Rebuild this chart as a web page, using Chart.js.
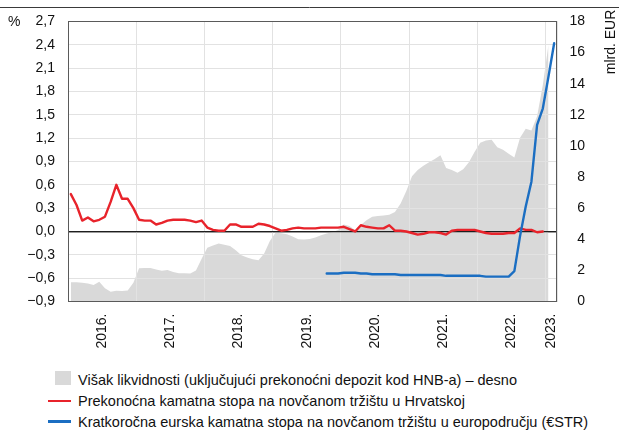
<!DOCTYPE html>
<html>
<head>
<meta charset="utf-8">
<script src="https://cdn.jsdelivr.net/npm/chart.js@4.4.1/dist/chart.umd.min.js"></script>
<style>
  html, body { margin: 0; padding: 0; background: #ffffff; }
  #wrap { position: relative; width: 619px; height: 436px; overflow: hidden;
          font-family: "Liberation Sans", Arial, sans-serif; color: #111; }
  #c { position: absolute; left: 0; top: 0; }
  .row { position: absolute; left: 78px; height: 20px; line-height: 20px; font-size: 14.5px; white-space: nowrap; }
  .sw { position: absolute; }
</style>
</head>
<body>
<div id="wrap">
  <canvas id="c" width="619" height="360"></canvas>
  <div id="legend"></div>
</div>
<script>
// ---------- DATA (monthly, Jan 2016 – Feb 2023) ----------
const startYear = 2016;
const monthCount = 86;

const seriesNames = [
  'Višak likvidnosti (uključujući prekonoćni depozit kod HNB-a) – desno',
  'Prekonoćna kamatna stopa na novčanom tržištu u Hrvatskoj',
  'Kratkoročna eurska kamatna stopa na novčanom tržištu u europodručju (€STR)'
];

// Excess liquidity, bn EUR (right axis)
const excessLiquidity = [
  1.23, 1.23, 1.21, 1.15, 1.06, 1.27, 0.85, 0.63, 0.69, 0.68, 0.70, 1.20,
  2.13, 2.15, 2.15, 2.05, 1.97, 2.02, 1.90, 1.81, 1.81, 1.80, 2.00, 2.75,
  3.45, 3.60, 3.72, 3.64, 3.56, 3.30, 2.97, 2.83, 2.72, 2.65, 3.09, 3.88,
  4.42, 4.38, 4.32, 4.18, 4.00, 3.98, 4.02, 4.12, 4.25, 4.37, 4.45, 4.60,
  4.95, 4.85, 4.58, 4.92, 5.22, 5.44, 5.50, 5.52, 5.58, 5.75, 6.30, 7.10,
  8.05, 8.45, 8.72, 8.95, 9.15, 9.40, 8.58, 8.45, 8.28, 8.50, 8.95, 9.60,
  10.20, 10.35, 10.40, 9.92, 9.75, 9.50, 9.25, 10.53, 11.10, 10.99, 11.90, 13.90,
  16.50, null
];

// Overnight money market rate in Croatia, % (left axis)
const overnightHR = [
  0.48, 0.34, 0.14, 0.18, 0.13, 0.15, 0.19, 0.38, 0.60, 0.42, 0.42, 0.30,
  0.15, 0.14, 0.14, 0.09, 0.11, 0.14, 0.15, 0.15, 0.15, 0.14, 0.12, 0.14,
  0.05, 0.02, 0.01, 0.01, 0.09, 0.09, 0.06, 0.06, 0.06, 0.10, 0.09, 0.07,
  0.04, 0.01, 0.02, 0.04, 0.05, 0.04, 0.04, 0.04, 0.05, 0.05, 0.05, 0.05,
  0.06, 0.03, 0.00, 0.08, 0.06, 0.05, 0.04, 0.04, 0.08, 0.01, 0.01, 0.00,
  -0.02, -0.04, -0.03, -0.01, -0.01, -0.02, -0.04, 0.01, 0.02, 0.02, 0.02, 0.02,
  0.00, -0.02, -0.03, -0.03, -0.03, -0.02, -0.02, 0.04, 0.02, 0.02, -0.01, 0.00,
  null, null
];

// €STR, % (left axis) – starts Oct 2019
const estr = [
  null, null, null, null, null, null, null, null, null, null, null, null,
  null, null, null, null, null, null, null, null, null, null, null, null,
  null, null, null, null, null, null, null, null, null, null, null, null,
  null, null, null, null, null, null, null, null, null, -0.54, -0.54, -0.54,
  -0.53, -0.53, -0.53, -0.54, -0.54, -0.55, -0.55, -0.55, -0.55, -0.55, -0.56, -0.56,
  -0.56, -0.56, -0.56, -0.56, -0.56, -0.56, -0.57, -0.57, -0.57, -0.57, -0.57, -0.57,
  -0.57, -0.58, -0.58, -0.58, -0.58, -0.58, -0.51, -0.06, 0.32, 0.64, 1.37, 1.58,
  1.99, 2.42
];

const yearLabels = ['2016.', '2017.', '2018.', '2019.', '2020.', '2021.', '2022.', '2023.'];
const leftTicks  = [-0.9, -0.6, -0.3, 0.0, 0.3, 0.6, 0.9, 1.2, 1.5, 1.8, 2.1, 2.4, 2.7];
const rightTicks = [0, 2, 4, 6, 8, 10, 12, 14, 16, 18];
const leftUnit = '%';
const rightUnit = 'mlrd. EUR';

// ---------- STYLE ----------
const FONT = '"Liberation Sans", Arial, sans-serif';
const C_GRAY = '#d9d9d9';
const C_GRID = '#e2e2e2';
const C_RED = '#e8232b';
const C_BLUE = '#1b6ec2';
const C_TEXT = '#111111';

// month position: month i drawn at centre of its month slot
const toPoints = arr => arr.map((v, i) => ({ x: i + 0.5, y: v }));

// x ticks: year boundaries (grid only) and year centres (labels)
const boundaryTicks = yearLabels.map((_, k) => k * 12).concat([monthCount]);
const labelTicks = yearLabels.map((_, k) => Math.min(k * 12 + 6, (k * 12 + monthCount) / 2));
const labelMap = new Map(labelTicks.map((v, k) => [v, yearLabels[k]]));
const xTickValues = [...new Set(boundaryTicks.concat(labelTicks))].sort((a, b) => a - b);

const fmtLeft = v => {
  if (Math.abs(v) < 1e-9) return '0,0';
  return (v < 0 ? '\u2212' : '') + Math.abs(v).toFixed(1).replace('.', ',');
};

Chart.defaults.font.family = FONT;
Chart.defaults.color = C_TEXT;

const decor = {
  id: 'decor',
  afterDatasetDraw(chart, args) {
    // redraw grid on top of the grey area, below the lines
    if (args.index === 0) {
      const ca = chart.chartArea;
      chart.scales.x.drawGrid(ca);
      chart.scales.y.drawGrid(ca);
    }
  },
  afterDraw(chart) {
    const ctx = chart.ctx, ca = chart.chartArea;
    ctx.save();
    // frame
    ctx.strokeStyle = '#5a5a5a';
    ctx.lineWidth = 1;
    ctx.strokeRect(Math.round(ca.left) + 0.5, Math.round(ca.top) + 0.5,
                   Math.round(ca.right - ca.left) - 1, Math.round(ca.bottom - ca.top));
    // top rule
    ctx.strokeStyle = '#3a3a3a';
    ctx.beginPath(); ctx.moveTo(0, 7.5); ctx.lineTo(chart.width, 7.5); ctx.stroke();
    // units
    ctx.fillStyle = C_TEXT;
    ctx.font = '14px ' + FONT;
    ctx.textBaseline = 'middle';
    ctx.textAlign = 'left';
    ctx.fillText(leftUnit, 8, chart.scales.y.getPixelForValue(leftTicks[leftTicks.length - 1]) + 1);
    ctx.translate(611, 42);
    ctx.rotate(-Math.PI / 2);
    ctx.textAlign = 'center';
    ctx.fillText(rightUnit, 0, 0);
    ctx.restore();
  }
};

new Chart(document.getElementById('c'), {
  type: 'line',
  data: {
    datasets: [
      {
        label: seriesNames[0], data: toPoints(excessLiquidity), yAxisID: 'y2', order: 3,
        fill: 'origin', backgroundColor: C_GRAY, borderWidth: 0, borderColor: C_GRAY,
        pointRadius: 0, tension: 0
      },
      {
        label: seriesNames[1], data: toPoints(overnightHR), yAxisID: 'y', order: 2,
        borderColor: C_RED, borderWidth: 2.4, pointRadius: 0, fill: false, tension: 0,
        borderJoinStyle: 'round', borderCapStyle: 'round'
      },
      {
        label: seriesNames[2], data: toPoints(estr), yAxisID: 'y', order: 1,
        borderColor: C_BLUE, borderWidth: 2.4, pointRadius: 0, fill: false, tension: 0,
        borderJoinStyle: 'round', borderCapStyle: 'round'
      }
    ]
  },
  options: {
    responsive: false,
    animation: false,
    devicePixelRatio: 1,
    layout: { padding: { top: 21, left: 0, right: 34, bottom: 0 } },
    plugins: { legend: { display: false }, tooltip: { enabled: false } },
    scales: {
      x: {
        type: 'linear', position: 'bottom', min: 0, max: monthCount,
        afterBuildTicks: s => { s.ticks = xTickValues.map(v => ({ value: v })); },
        afterFit: s => { s.height = 58.5; },
        border: { display: false },
        grid: {
          drawTicks: false, lineWidth: 1,
          color: c => (c.tick && boundaryTicks.includes(c.tick.value)) ? C_GRID : 'rgba(0,0,0,0)'
        },
        ticks: {
          autoSkip: false, minRotation: 90, maxRotation: 90, padding: 12,
          font: { size: 14 }, color: C_TEXT,
          callback: v => labelMap.get(v) || ''
        }
      },
      y: {
        type: 'linear', position: 'left', min: leftTicks[0], max: leftTicks[leftTicks.length - 1],
        afterBuildTicks: s => { s.ticks = leftTicks.map(v => ({ value: v })); },
        afterFit: s => { s.width = 68; },
        border: { display: false },
        grid: {
          drawTicks: false,
          color: c => (c.tick && Math.abs(c.tick.value) < 1e-9) ? '#1e1e1e' : C_GRID,
          lineWidth: c => (c.tick && Math.abs(c.tick.value) < 1e-9) ? 1.3 : 1
        },
        ticks: { padding: 13, font: { size: 14 }, color: C_TEXT, callback: v => fmtLeft(v) }
      },
      y2: {
        type: 'linear', position: 'right', min: rightTicks[0], max: rightTicks[rightTicks.length - 1],
        afterBuildTicks: s => { s.ticks = rightTicks.map(v => ({ value: v })); },
        afterFit: s => { s.width = 28; },
        border: { display: false },
        grid: { display: false, drawTicks: false },
        ticks: { padding: 12, crossAlign: 'far', font: { size: 14 }, color: C_TEXT, callback: v => String(v) }
      }
    }
  },
  plugins: [decor]
});

// ---------- HTML legend ----------
const legend = document.getElementById('legend');
const rowTops = [370, 391, 412];
const swatches = [
  { left: 55, top: 371, width: 16, height: 14, background: C_GRAY },
  { left: 48, top: 399.5, width: 23, height: 2.5, background: C_RED },
  { left: 48, top: 420.2, width: 23, height: 2.5, background: C_BLUE }
];
seriesNames.forEach((name, k) => {
  const sw = document.createElement('div');
  sw.className = 'sw';
  const s = swatches[k];
  Object.assign(sw.style, { left: s.left + 'px', top: s.top + 'px', width: s.width + 'px',
                            height: s.height + 'px', background: s.background });
  legend.appendChild(sw);
  const row = document.createElement('div');
  row.className = 'row';
  row.style.top = rowTops[k] + 'px';
  row.textContent = name;
  legend.appendChild(row);
});
</script>
</body>
</html>
